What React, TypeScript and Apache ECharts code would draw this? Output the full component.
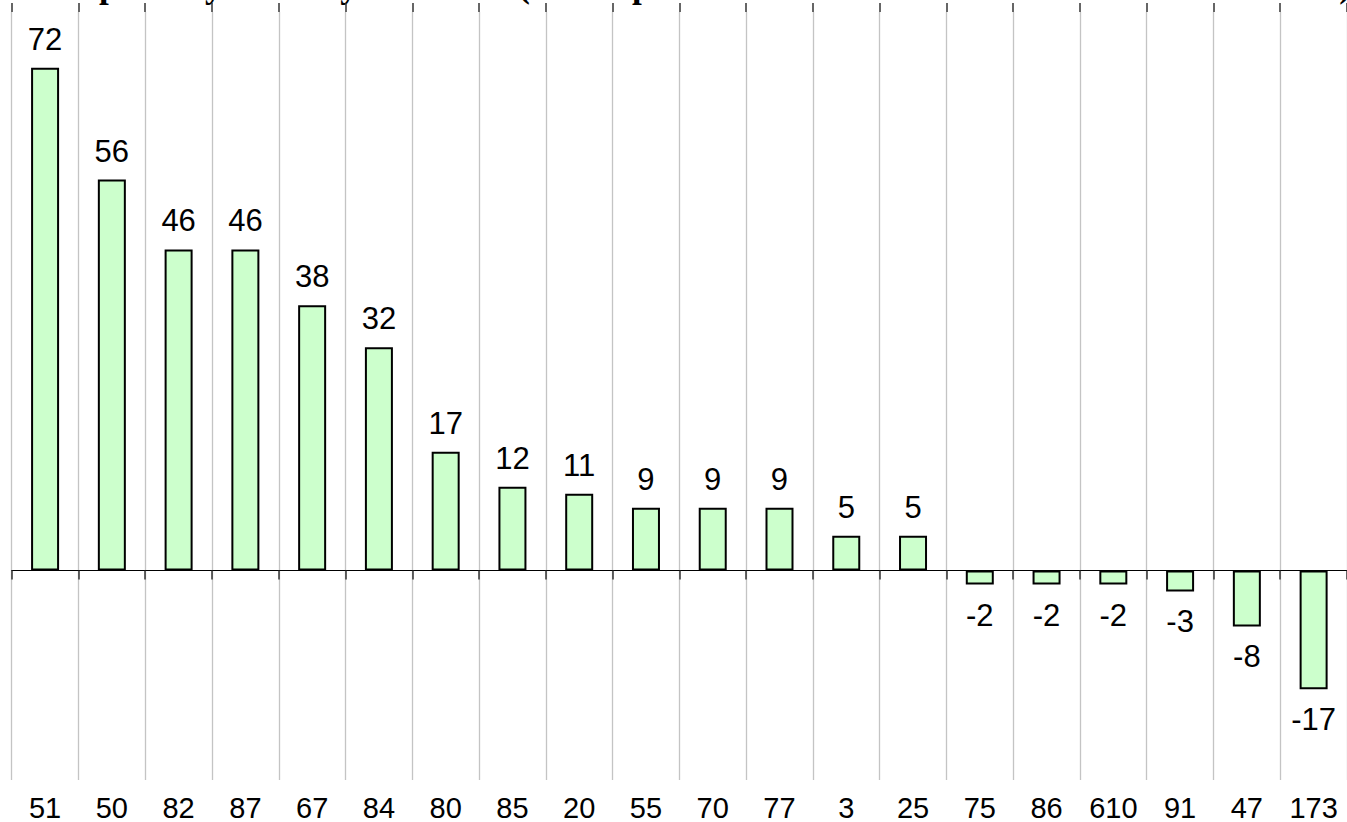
import React, { useEffect, useRef } from "react";
import * as echarts from "echarts";

const categories = ["51", "50", "82", "87", "67", "84", "80", "85", "20", "55", "70", "77", "3", "25", "75", "86", "610", "91", "47", "173"];
const values = [72, 56, 46, 46, 38, 32, 17, 12, 11, 9, 9, 9, 5, 5, -2, -2, -2, -3, -8, -17];
const titleText = "Net Imports by Country in Tonnes (Net Export Balance Less Domestic Sales in Thousands)";
const yMin = -30;
const yMax = 80;

export default function App() {
  const ref = useRef<HTMLDivElement>(null);
  useEffect(() => {
    if (!ref.current) return;
    const chart = echarts.init(ref.current, undefined, { renderer: "svg" });
    const font = "'Liberation Sans', Arial, sans-serif";
    const gridRect = { left: 11.7, right: -7.5, top: 12, bottom: 42, containLabel: false };
    chart.setOption({
      animation: false,
      backgroundColor: "#ffffff",
      graphic: [
        {
          type: "text",
          x: 673,
          y: -15,
          style: {
            text: titleText,
            font: "bold 35px 'Liberation Serif', 'Times New Roman', serif",
            fill: "#000",
            align: "center",
            verticalAlign: "middle",
          },
        },
      ],
      grid: [gridRect, gridRect],
      xAxis: [
        {
          type: "category",
          gridIndex: 0,
          data: categories,
          position: "bottom",
          axisLine: { show: true, onZero: true, lineStyle: { color: "#000", width: 1 } },
          axisTick: { show: true, inside: false, length: 9, lineStyle: { color: "#333", width: 1.5 } },
          axisLabel: { show: false },
          splitLine: { show: false },
        },
        {
          type: "category",
          gridIndex: 0,
          data: categories,
          position: "top",
          axisLine: { show: false, onZero: true },
          axisTick: { show: true, inside: false, length: 9, lineStyle: { color: "#333", width: 1.5 } },
          axisLabel: { show: false },
          splitLine: { show: false },
        },
        {
          type: "category",
          gridIndex: 1,
          data: categories,
          position: "bottom",
          axisLine: { show: false, onZero: false },
          axisTick: { show: false },
          axisLabel: { show: true, color: "#000", fontSize: 29, fontFamily: font, margin: 13, interval: 0, lineHeight: 29 },
          splitLine: { show: true, interval: 0, lineStyle: { color: "#c4c4c4", width: 1.3 } },
        },
      ],
      yAxis: [
        { type: "value", gridIndex: 0, min: yMin, max: yMax, show: false },
        { type: "value", gridIndex: 1, min: yMin, max: yMax, show: false },
      ],
      series: [
        {
          type: "bar",
          xAxisIndex: 0,
          yAxisIndex: 0,
          barWidth: 28,
          itemStyle: { color: "#ccffcc", borderColor: "#000", borderWidth: 2 },
          data: values.map((v) => ({
            value: v,
            label: {
              show: true,
              position: v >= 0 ? "top" : "bottom",
              distance: v >= 0 ? 13 : 15,
              color: "#000",
              fontSize: 31,
              fontFamily: font,
            },
          })),
        },
      ],
    });
    return () => chart.dispose();
  }, []);
  return <div ref={ref} style={{ position: "absolute", left: 0, top: 0, width: 1347, height: 822 }} />;
}
